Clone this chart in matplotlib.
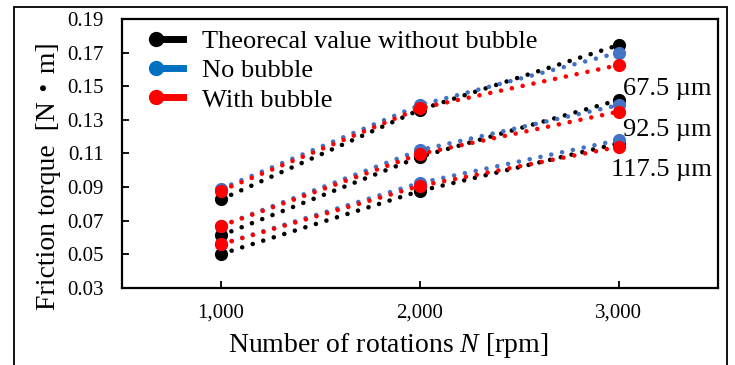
import numpy as np
import matplotlib
matplotlib.use('Agg')
import matplotlib.pyplot as plt
from matplotlib.lines import Line2D
from matplotlib.patches import Rectangle
from matplotlib.legend_handler import HandlerLine2D

plt.rcParams['font.family'] = ['Liberation Serif', 'Noto Sans CJK JP']
plt.rcParams['mathtext.fontset'] = 'custom'
plt.rcParams['mathtext.it'] = 'Liberation Serif:italic'
plt.rcParams['mathtext.rm'] = 'Liberation Serif'

# rotation speed [rpm]
rpm = [1000, 2000, 3000]

# friction torque [N m], one group per gap size
gap_labels = ['67.5 \u00b5m', '92.5 \u00b5m', '117.5 \u00b5m']
theory = [
    [0.0827, 0.1360, 0.1745],
    [0.0613, 0.1080, 0.1418],
    [0.0502, 0.0877, 0.1160],
]
no_bubble = [
    [0.0890, 0.1388, 0.1700],
    [0.0670, 0.1120, 0.1388],
    [0.0560, 0.0925, 0.1180],
]
with_bubble = [
    [0.0879, 0.1369, 0.1626],
    [0.0669, 0.1097, 0.1349],
    [0.0560, 0.0907, 0.1140],
]

BLACK = '#000000'
BLUE = '#4472C4'
RED = '#FF0000'


class LeftMarker(HandlerLine2D):
    # marker at the left end of the legend line, like excel does it
    def create_artists(self, legend, orig_handle, xdescent, ydescent,
                       width, height, fontsize, trans):
        y = (height - ydescent) / 2
        line = Line2D([-xdescent, -xdescent + width], [y, y])
        self.update_prop(line, orig_handle, legend)
        line.set_marker('None')
        mk = Line2D([-xdescent], [y])
        self.update_prop(mk, orig_handle, legend)
        mk.set_linestyle('None')
        line.set_transform(trans)
        mk.set_transform(trans)
        return [line, mk]


fig = plt.figure(figsize=(7.35, 3.65), dpi=100)
ax = fig.add_axes([0.1656, 0.2110, 0.8113, 0.7370])

dots = (0, (0.01, 2.4))
for i in range(3):
    for vals, col in [(theory[i], BLACK), (no_bubble[i], BLUE), (with_bubble[i], RED)]:
        ax.plot(rpm, vals, color=col, linestyle=dots, linewidth=3.3,
                dash_capstyle='round', marker='o', markersize=9.5,
                markeredgewidth=0)

# gap labels next to the 3000 rpm points
offsets = [(67, -17), (67, -13.5), (67, -17)]
for i in range(3):
    ax.annotate(gap_labels[i], (rpm[-1], with_bubble[i][-1]), xytext=offsets[i],
                textcoords='offset points', ha='right', va='center', fontsize=19)

ax.set_xlim(500, 3500)
ax.set_ylim(0.03, 0.19)
ax.set_xticks(rpm)
ax.set_xticklabels(['1,000', '2,000', '3,000'])
ax.set_yticks(np.arange(0.03, 0.1901, 0.02))
ax.set_yticklabels(['%.2f' % v for v in np.arange(0.03, 0.1901, 0.02)])
ax.tick_params(axis='both', direction='in', length=5, width=1.3, labelsize=15)
ax.tick_params(axis='y', pad=13)
ax.tick_params(axis='x', pad=11)
for s in ax.spines.values():
    s.set_linewidth(1.6)

ax.set_xlabel('Number of rotations $N$ [rpm]', fontsize=20)
ax.set_ylabel('Friction torque  [N\u30fbm]', fontsize=20)
ax.xaxis.set_label_coords(0.4466, -0.212)
ax.xaxis.label.set_va('center')
ax.yaxis.set_label_coords(-0.1236, 0.416)
ax.yaxis.label.set_va('center')

handles = [
    Line2D([], [], color=BLACK, linewidth=5, marker='o', markersize=11, markeredgewidth=0),
    Line2D([], [], color='#0070C0', linewidth=5, marker='o', markersize=11, markeredgewidth=0),
    Line2D([], [], color=RED, linewidth=5, marker='o', markersize=11, markeredgewidth=0),
]
names = ['Theorecal value without bubble', 'No bubble', 'With bubble']
ax.legend(handles, names, loc='upper left', bbox_to_anchor=(0.039, 1.0),
          frameon=False, prop={'family': 'Liberation Serif', 'size': 19},
          handlelength=1.06, handletextpad=0.72,
          labelspacing=0.22, borderaxespad=0,
          handler_map={h: LeftMarker() for h in handles})

# outer frame around the whole picture
fig.patches.append(Rectangle((0.019, -0.1), 0.97, 1.081, transform=fig.transFigure,
                             fill=False, edgecolor='black', linewidth=1.3))

fig.savefig('out.png', dpi=100)
